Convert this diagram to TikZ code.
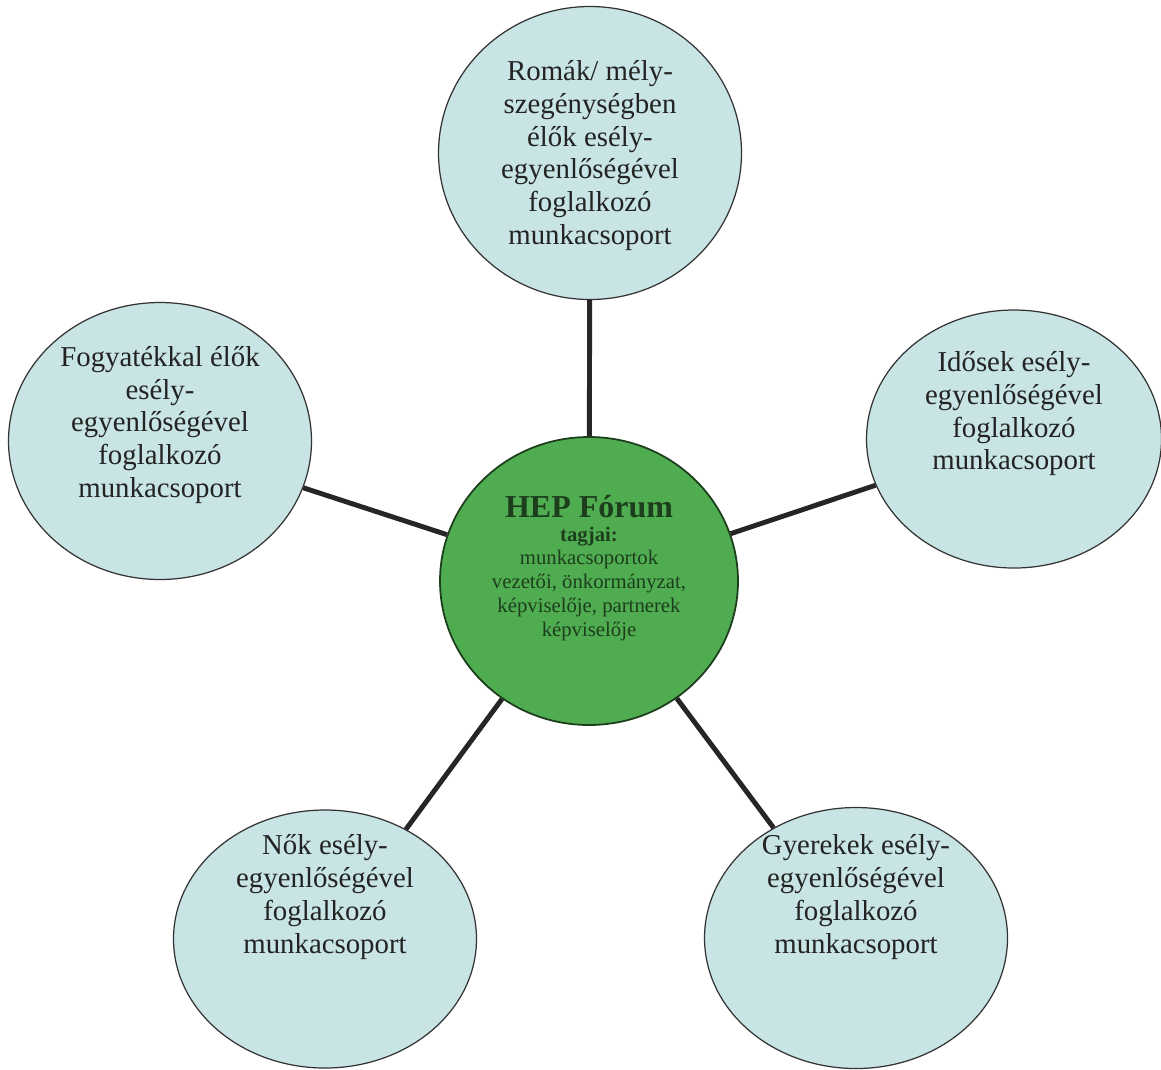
\documentclass[tikz,border=0pt]{standalone}
\usepackage{fontspec}
\setmainfont{Liberation Serif}
\usetikzlibrary{shapes.geometric}
\definecolor{korkek}{RGB}{200,228,228}
\definecolor{korzold}{RGB}{80,172,80}
\definecolor{sotetzold}{RGB}{28,62,28}
\definecolor{szoveg}{RGB}{35,35,35}

\begin{document}
\begin{tikzpicture}[
    csop/.style={ellipse, draw=black!80, line width=0.7pt, fill=korkek, inner sep=0pt, minimum width=6.06cm},
    csopszoveg/.style={align=center, text=szoveg, font=\fontsize{16.4}{18.6}\selectfont},
    kozep/.style={ellipse, draw=sotetzold, line width=1pt, fill=korzold, inner sep=0pt},
    vonal/.style={line width=2.8pt, draw=black!85}]
    \useasboundingbox (0,0) rectangle (23.22,-21.38);
    \node[kozep, minimum width=5.96cm, minimum height=5.76cm,
        label={[align=center, text=sotetzold, font=\fontsize{11.8}{13.6}\selectfont, yshift=0.26cm]center:{{\fontsize{18.2}{19}\selectfont\bfseries HEP Fórum}\\ {\bfseries tagjai:}\\ munkacsoportok\\ vezetői, önkormányzat,\\ képviselője, partnerek\\ képviselője}}] (hub) at (11.78,-11.62) {};
    \node[csop, minimum height=5.86cm, label={[csopszoveg, yshift=-0.05cm]center:{Romák/ mély-\\ szegénységben\\ élők esély-\\ egyenlőségével\\ foglalkozó\\ munkacsoport}}] (romak) at (11.8,-3.06) {};
    \node[csop, minimum height=5.54cm, label={[csopszoveg, yshift=0.32cm]center:{Fogyatékkal élők\\ esély-\\ egyenlőségével\\ foglalkozó\\ munkacsoport}}] (fogy) at (3.2,-8.82) {};
    \node[csop, minimum width=5.9cm, minimum height=5.16cm, label={[csopszoveg, yshift=0.5cm]center:{Idősek esély-\\ egyenlőségével\\ foglalkozó\\ munkacsoport}}] (idos) at (20.28,-8.78) {};
    \node[csop, minimum height=5.16cm, label={[csopszoveg, yshift=0.84cm]center:{Nők esély-\\ egyenlőségével\\ foglalkozó\\ munkacsoport}}] (nok) at (6.5,-18.78) {};
    \node[csop, minimum height=5.22cm, label={[csopszoveg, yshift=0.82cm]center:{Gyerekek esély-\\ egyenlőségével\\ foglalkozó\\ munkacsoport}}] (gyer) at (17.12,-18.76) {};
    % a munkacsoportok a fórumhoz kapcsolódnak
    \foreach \g in {romak,fogy,idos,nok,gyer} {\draw[vonal] (hub) -- (\g);}
\end{tikzpicture}
\end{document}
